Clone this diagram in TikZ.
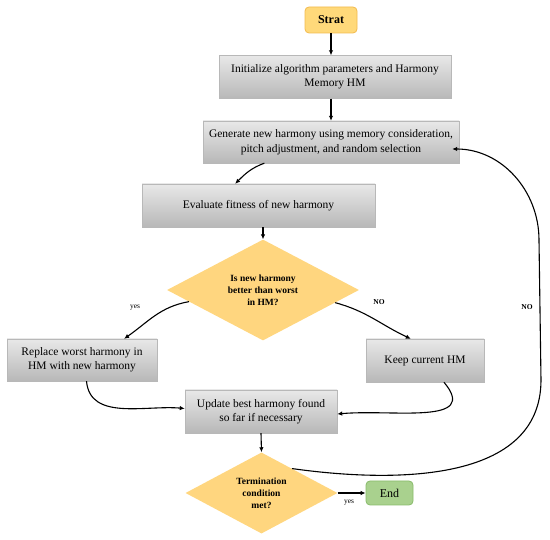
\documentclass[tikz,border=0pt]{standalone}
\usepackage{fontspec}
\setmainfont{Liberation Serif}
\usepackage{tikz}
\usetikzlibrary{shapes.geometric, arrows.meta, positioning, calc}

\definecolor{decfill}{HTML}{FFD67F}
\definecolor{startfill}{HTML}{FFD97A}
\definecolor{startdraw}{HTML}{F2BA4E}
\definecolor{endfill}{HTML}{A9D18E}
\definecolor{enddraw}{HTML}{88BB6A}

\begin{document}
\begin{tikzpicture}[x=1pt, y=-1pt, process/.style={draw=black!28,
      top color=black!9, bottom color=black!28, minimum width=#1,
      minimum height=43pt, inner sep=2pt, align=center,
      font=\fontsize{11.5pt}{14.5pt}\selectfont}, decision/.style={diamond,
      fill=decfill, inner sep=0pt, align=center, minimum width=#1,
      font=\bfseries\fontsize{9.5pt}{12pt}\selectfont},
      terminal/.style={rounded corners=4pt, thick, minimum width=#1,
      inner sep=0pt}, arr/.style={line width=1.1pt,
      -{Latex[length=5pt,width=4.5pt]}},
      smalllabel/.style={font=\fontsize{7.5pt}{8pt}\selectfont},
      nolabel/.style={font=\bfseries\fontsize{7.5pt}{9pt}\selectfont} ]

    \useasboundingbox (0,0) rectangle (550,540);

    % Start and end
    \node[terminal=52pt, draw=startdraw, fill=startfill, minimum height=26pt,
    font=\bfseries\fontsize{12pt}{14pt}\selectfont] (start) at (331,20) {Strat};
    \node[terminal=47pt, draw=enddraw, fill=endfill, minimum height=24pt,
    font=\fontsize{12pt}{14pt}\selectfont] (stop) at (389.5,493) {End};

    % Process boxes
    \node[process=232pt] (init) at (335,77) {Initialize algorithm parameters
    and Harmony\\Memory HM};
    \node[process=256pt, minimum height=42pt] (gen) at (331,142) {Generate new
    harmony using memory consideration,\\pitch adjustment, and random
    selection};
    \node[process=233pt] (eval) at (258.5,205.5) {Evaluate fitness of new
    harmony};
    \node[process=150pt, minimum height=42pt] (repl) at (82,360) {Replace worst
    harmony in\\HM with new harmony};
    \node[process=118pt] (keep) at (425,360.5) {Keep current HM};
    \node[process=152pt] (upd) at (261,411.5) {Update best harmony found\\so
    far if necessary};

    % Decisions
    \node[decision=192pt, minimum height=86pt] (better) at (263,290) {Is new
    harmony\\better than worst\\in HM?};
    \node[decision=152pt, minimum height=80pt] (term) at (261.5,493)
    {Termination\\condition\\met?};

    % Main flow
    \draw[arr] (start) -- (start |- init.north);
    \draw[arr] (init.south -| gen) -- (gen.north);
    \draw[arr] ($(gen.south west)!0.24!(gen.south east)$) to[out=200, in=45]
    ($(eval.north west)!0.4!(eval.north east)$);
    \draw[arr] (eval.south -| better) -- (better.north);

    % Branches
    \draw[arr] ($(better.west)!0.23!(better.south)$) to[out=190, in=35]
    ($(repl.north west)!0.78!(repl.north east)$);
    \draw[arr] ($(better.east)!0.25!(better.south)$) to[out=-15, in=155]
    ($(keep.north west)!0.38!(keep.north east)$);
    \draw[arr] ($(repl.south west)!0.53!(repl.south east)$) to[out=-85, in=175]
    ([yshift=3pt]upd.west);
    \draw[arr] ($(keep.south west)!0.66!(keep.south east)$) to[out=-50, in=5,
    looseness=1.3] ([yshift=-2.5pt]upd.east);
    \draw[arr] (upd.south) -- (term.north);
    \draw[arr] (term) -- (stop);

    % NO loop back
    \coordinate (lpbot) at (541,380);
    \coordinate (lptop) at (539,240);
    \draw[arr] ($(term.north)!0.4!(term.east)$) to[out=-8, in=-90] (lpbot) --
    (lptop) to[out=90, in=0] ($(gen.east)+(-7,7)$);

    % Labels
    \node[smalllabel] (yesl) at (135,308) {yes};
    \node[nolabel] (nol) at (379,302) {NO};
    \node[nolabel] (noloop) at (527,307) {NO};
    \node[smalllabel] (yesend) at (349,503) {yes};

\end{tikzpicture}
\end{document}
